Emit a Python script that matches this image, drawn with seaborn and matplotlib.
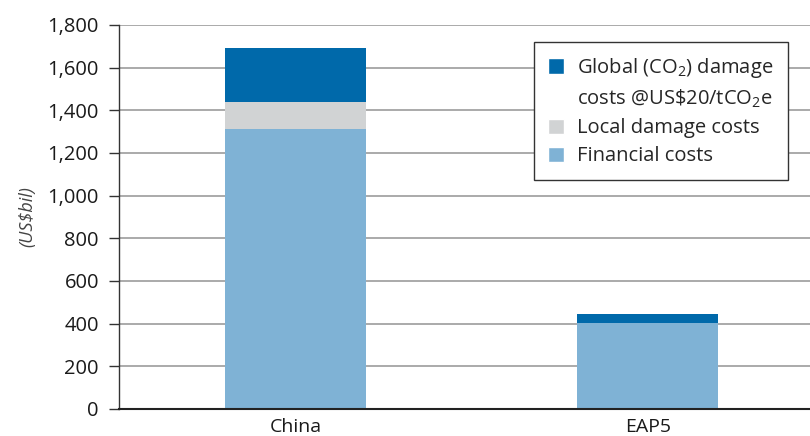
import matplotlib
matplotlib.use("Agg")
import matplotlib.pyplot as plt
import seaborn as sns
import numpy as np
import pandas as pd
from matplotlib.patches import Patch

regions = ["China", "EAP5"]
financial = [1312, 402]
local_damage = [127, 2]
global_damage = [253, 41]
yticks = [0, 200, 400, 600, 800, 1000, 1200, 1400, 1600, 1800]

c_fin = "#7FB2D5"
c_loc = "#D1D3D4"
c_glob = "#0069AA"

FS = 14.5

sns.set_theme(style="white")
plt.rcParams['font.family'] = ['Open Sans', 'DejaVu Sans']
plt.rcParams['mathtext.fontset'] = 'custom'
plt.rcParams['mathtext.rm'] = 'Open Sans'
plt.rcParams['mathtext.it'] = 'Open Sans:italic'

fig = plt.figure(figsize=(8.1, 4.36), dpi=100)
ax = fig.add_axes([0.147, 0.062, 0.853, 0.881])

df = pd.DataFrame({
    "region": regions,
    "fin": financial,
    "loc": np.array(financial) + np.array(local_damage),
    "glob": np.array(financial) + np.array(local_damage) + np.array(global_damage),
})

for col, colr in [("glob", c_glob), ("loc", c_loc), ("fin", c_fin)]:
    sns.barplot(data=df, x="region", y=col, color=colr, width=0.4,
                saturation=1, ax=ax, zorder=3, linewidth=0)

ax.set_xlim(-0.5, 1.46)
ax.set_ylim(0, 1800)
ax.set_yticks(yticks)
ax.set_yticklabels([f"{v:,}" for v in yticks], fontsize=FS, color="#1a1a1a")
ax.tick_params(axis="y", left=True, length=7, width=1, color="#333333", pad=7.5)
ax.tick_params(axis="x", bottom=False, labelsize=14, labelcolor="#1a1a1a", pad=0.5)
ax.set_xlabel("")
ax.set_ylabel("(US$bil)", fontsize=13, style="italic", color="#444444", labelpad=8)

ax.yaxis.grid(True, color="#AAAAAA", linewidth=1.4, zorder=0)
ax.set_axisbelow(True)
for s in ["top", "right"]:
    ax.spines[s].set_visible(False)
ax.spines["left"].set_color("#333333")
ax.spines["left"].set_linewidth(1)
ax.spines["bottom"].set_color("#222222")
ax.spines["bottom"].set_linewidth(1.5)
ax.spines["bottom"].set_zorder(5)

handles = [
    Patch(facecolor=c_glob, label="Global (CO$_2$) damage"),
    Patch(facecolor="none", edgecolor="none", label="costs @US\\$20/tCO$_2$e"),
    Patch(facecolor=c_loc, label="Local damage costs"),
    Patch(facecolor=c_fin, label="Financial costs"),
]
leg = ax.legend(handles=handles, loc="upper right", bbox_to_anchor=(0.968, 0.956),
                borderaxespad=0,
                fontsize=FS, frameon=True, fancybox=False, edgecolor="#333333",
                handlelength=0.8, handleheight=0.8, handletextpad=0.65,
                labelspacing=0.4, borderpad=0.7, framealpha=1)
leg.get_frame().set_linewidth(1)
leg.set_zorder(6)

fig.savefig("out.png", dpi=100)
